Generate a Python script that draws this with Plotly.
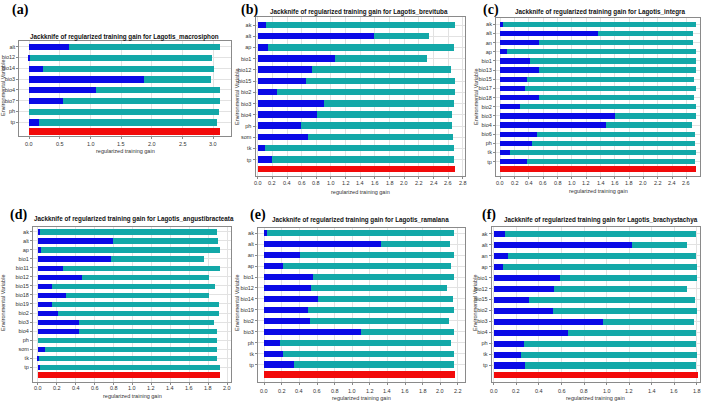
import plotly.graph_objects as go

# ---------------- data ----------------
a_vars = ["alt", "bio12", "bio14", "bio3", "bio4", "bio7", "ph", "tp"]
a_without = [3.12, 2.98, 3.02, 2.97, 3.11, 3.12, 3.10, 3.06]
a_only = [0.65, 0.01, 0.23, 1.87, 1.09, 0.56, 0.0, 0.16]
a_all = 3.12
a_ticks = [0.0, 0.5, 1.0, 1.5, 2.0, 2.5, 3.0]

b_vars = ["ak", "alt", "ap", "bio1", "bio12", "bio15", "bio2", "bio3", "bio4", "ph", "som", "tk", "tp"]
b_without = [2.68, 2.33, 2.67, 2.31, 2.63, 2.68, 2.68, 2.67, 2.64, 2.65, 2.66, 2.67, 2.67]
b_only = [0.11, 1.58, 0.13, 1.05, 0.74, 0.65, 0.25, 0.90, 0.80, 0.59, 0.68, 0.09, 0.19]
b_all = 2.68
b_ticks = [0.0, 0.2, 0.4, 0.6, 0.8, 1.0, 1.2, 1.4, 1.6, 1.8, 2.0, 2.2, 2.4, 2.6, 2.8]

c_vars = ["ak", "alt", "an", "ap", "bio1", "bio13", "bio15", "bio17", "bio18", "bio2", "bio3", "bio4", "bio6", "ph", "tk", "tp"]
c_without = [2.73, 2.69, 2.69, 2.73, 2.73, 2.73, 2.70, 2.73, 2.70, 2.73, 2.73, 2.68, 2.72, 2.72, 2.73, 2.72]
c_only = [0.04, 1.36, 0.545, 0.09, 0.42, 0.54, 0.38, 0.345, 0.535, 0.275, 1.60, 1.48, 0.51, 0.44, 0.13, 0.37]
c_all = 2.74
c_ticks = [0.0, 0.2, 0.4, 0.6, 0.8, 1.0, 1.2, 1.4, 1.6, 1.8, 2.0, 2.2, 2.4, 2.6]

d_vars = ["ak", "alt", "ap", "bio1", "bio11", "bio12", "bio15", "bio18", "bio19", "bio2", "bio3", "bio4", "ph", "som", "tk", "tp"]
d_without = [1.89, 1.90, 1.92, 1.75, 1.92, 1.81, 1.87, 1.81, 1.91, 1.91, 1.86, 1.89, 1.89, 1.89, 1.89, 1.92]
d_only = [0.025, 0.79, 0.03, 0.77, 0.27, 0.47, 0.155, 0.30, 0.155, 0.21, 0.435, 0.44, 0.0, 0.08, 0.014, 0.025]
d_all = 1.92
d_ticks = [0.0, 0.2, 0.4, 0.6, 0.8, 1.0, 1.2, 1.4, 1.6, 1.8, 2.0]

e_vars = ["ak", "alt", "an", "ap", "bio1", "bio12", "bio14", "bio19", "bio2", "bio3", "ph", "tk", "tp"]
e_without = [2.16, 2.11, 2.15, 2.125, 2.16, 2.08, 2.14, 2.15, 2.10, 2.16, 2.12, 2.16, 2.16]
e_only = [0.027, 1.33, 0.405, 0.21, 0.55, 0.53, 0.61, 0.50, 0.52, 1.10, 0.175, 0.21, 0.34]
e_all = 2.17
e_ticks = [0.0, 0.2, 0.4, 0.6, 0.8, 1.0, 1.2, 1.4, 1.6, 1.8, 2.0, 2.2]

f_vars = ["ak", "alt", "an", "ap", "bio1", "bio12", "bio15", "bio2", "bio3", "bio4", "ph", "tk", "tp"]
f_without = [1.79, 1.71, 1.79, 1.80, 1.80, 1.71, 1.78, 1.80, 1.77, 1.79, 1.79, 1.80, 1.79]
f_only = [0.095, 1.22, 0.12, 0.08, 0.58, 0.53, 0.31, 0.52, 0.97, 0.655, 0.26, 0.24, 0.27]
f_all = 1.81
f_ticks = [0.0, 0.2, 0.4, 0.6, 0.8, 1.0, 1.2, 1.4, 1.6, 1.8]

species = ["macrosiphon", "brevituba", "integra", "angustibracteata", "ramalana", "brachystachya"]
labels = ["(a)", "(b)", "(c)", "(d)", "(e)", "(f)"]

# ---------------- layout geometry (pixels) ----------------
W, H = 709, 402
geo = [
    dict(box=(19.3, 230.7, 40.7, 136.0), xr=(-0.163, 3.285), ytop=-0.56, gap=0.80, ybot=0.47,
         title=(124, 36.5), tick_y=144, xt_y=150.5, lab=(20, 10), ytl=(3, 88)),
    dict(box=(255.5, 465.0, 17.3, 176.0), xr=(-0.03, 2.83), ytop=-0.70, gap=0.86, ybot=0.60,
         title=(359, 12), tick_y=183, xt_y=192, lab=(249, 10), ytl=(237, 97)),
    dict(box=(496.0, 700.0, 18.0, 176.0), xr=(-0.06, 2.79), ytop=-0.69, gap=0.83, ybot=0.73,
         title=(600, 12), tick_y=183, xt_y=191, lab=(491, 10), ytl=(476, 97)),
    dict(box=(33.0, 231.0, 226.7, 381.7), xr=(-0.05, 2.04), ytop=-0.55, gap=0.82, ybot=0.78,
         title=(134, 219), tick_y=388, xt_y=395.5, lab=(18, 215), ytl=(3, 303)),
    dict(box=(258.0, 465.0, 228.0, 381.7), xr=(-0.07, 2.28), ytop=-0.48, gap=0.88, ybot=0.68,
         title=(360, 220), tick_y=391, xt_y=398, lab=(258, 215), ytl=(237, 303)),
    dict(box=(491.7, 700.0, 226.7, 381.7), xr=(-0.02, 1.83), ytop=-0.64, gap=0.85, ybot=0.64,
         title=(601, 220), tick_y=391, xt_y=398, lab=(489, 215), ytl=(475, 303)),
]

panels = [
    (a_vars, a_without, a_only, a_all, a_ticks),
    (b_vars, b_without, b_only, b_all, b_ticks),
    (c_vars, c_without, c_only, c_all, c_ticks),
    (d_vars, d_without, d_only, d_all, d_ticks),
    (e_vars, e_without, e_only, e_all, e_ticks),
    (f_vars, f_without, f_only, f_all, f_ticks),
]

CYAN = "#13a8a8"
BLUE = "#0a0ae6"
RED = "#f20a0a"
NARROW = "Liberation Sans Narrow, Arial Narrow, Liberation Sans, Arial, sans-serif"
SANS = "Liberation Sans, Arial, sans-serif"

fig = go.Figure()
annotations = []
layout = {}

for i, ((vars_, without, only, allv, ticks), g) in enumerate(zip(panels, geo)):
    k = i + 1
    xa = "x" if k == 1 else f"x{k}"
    ya = "y" if k == 1 else f"y{k}"
    n = len(vars_)
    ypos = list(range(n))
    red_y = n - 1 + g["gap"]
    fig.add_trace(go.Bar(x=without, y=ypos, orientation="h", marker=dict(color=CYAN, line=dict(width=0)),
                         width=0.58, xaxis=xa, yaxis=ya, showlegend=False))
    fig.add_trace(go.Bar(x=only, y=ypos, orientation="h", marker=dict(color=BLUE, line=dict(width=0)),
                         width=0.58, xaxis=xa, yaxis=ya, showlegend=False))
    fig.add_trace(go.Bar(x=[allv], y=[red_y], orientation="h", marker=dict(color=RED, line=dict(width=0)),
                         width=0.62, xaxis=xa, yaxis=ya, showlegend=False))

    l, r, t, b = g["box"]
    axis_common = dict(showline=True, mirror=True, linecolor="#8a8a8a", linewidth=1,
                       showgrid=True, gridcolor="#e2e2e2", gridwidth=1, zeroline=False,
                       ticks="outside", ticklen=2, tickcolor="#8a8a8a",
                       tickfont=dict(size=5.5, color="#333333", family=NARROW))
    layout["xaxis" if k == 1 else f"xaxis{k}"] = dict(
        axis_common, domain=[l / W, r / W], range=list(g["xr"]), anchor=ya,
        tickvals=ticks, ticktext=[f"{v:.1f}" for v in ticks], showticklabels=False)
    layout["yaxis" if k == 1 else f"yaxis{k}"] = dict(
        axis_common, domain=[1 - b / H, 1 - t / H], range=[red_y + g["ybot"], g["ytop"]], anchor=xa,
        tickvals=ypos, ticktext=vars_)

    for v in ticks:
        annotations.append(dict(x=v, y=1 - g["tick_y"] / H, xref=xa, yref="paper", text=f"{v:.1f}",
                                showarrow=False, xanchor="center", yanchor="middle",
                                font=dict(size=5.5, color="#333333", family=NARROW)))
    annotations.append(dict(x=(l + r) / 2 / W, y=1 - g["xt_y"] / H, xref="paper", yref="paper",
                            text="regularized training gain", showarrow=False, xanchor="center", yanchor="middle",
                            font=dict(size=5.5, color="#333333", family=NARROW)))
    annotations.append(dict(x=g["ytl"][0] / W, y=1 - g["ytl"][1] / H, xref="paper", yref="paper",
                            text="Environmental Variable", showarrow=False, textangle=-90,
                            xanchor="center", yanchor="middle",
                            font=dict(size=5.5, color="#333333", family=SANS)))
    annotations.append(dict(x=g["title"][0] / W, y=1 - g["title"][1] / H, xref="paper", yref="paper",
                            text=f"<b>Jackknife of regularized training gain for Lagotis_{species[i]}</b>",
                            showarrow=False, xanchor="center", yanchor="middle",
                            font=dict(size=6.3, color="#111111", family=NARROW)))
    annotations.append(dict(x=g["lab"][0] / W, y=1 - g["lab"][1] / H, xref="paper", yref="paper",
                            text=f"<b>{labels[i]}</b>", showarrow=False, xanchor="center", yanchor="middle",
                            font=dict(size=14, color="#000000", family="Liberation Serif, Times New Roman, serif")))

fig.update_layout(
    width=W, height=H, margin=dict(l=0, r=0, t=0, b=0),
    paper_bgcolor="white", plot_bgcolor="white",
    barmode="overlay", bargap=0, showlegend=False,
    annotations=annotations, **layout,
)

fig.write_html("out.html")
